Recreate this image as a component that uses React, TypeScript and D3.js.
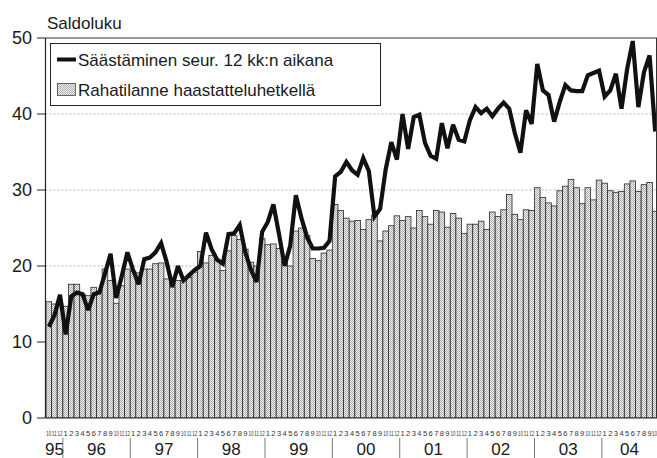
import React from 'react'
import * as d3 from 'd3'

// years on the x axis, months per year as printed under the bars
const years = ['95', '96', '97', '98', '99', '00', '01', '02', '03', '04']
const firstYearMonths = ['10', '11', '12']
const fullYearMonths = ['1', '2', '3', '4', '5', '6', '7', '8', '9', '10', '11', '12']
const lastYearMonths = ['1', '2', '3', '4', '5', '6', '7', '8', '9', '10']

// Säästäminen seur. 12 kk:n aikana (line)
const saving = [
  12.0, 13.5, 16.2,
  11.0, 16.0, 16.5, 16.3, 14.2, 16.3, 16.5, 19.0, 21.6, 15.8, 18.7, 21.8,
  19.5, 17.6, 20.9, 21.1, 21.8, 23.0, 20.5, 17.3, 20.0, 18.1, 18.8, 19.5,
  20.0, 24.4, 22.2, 20.8, 20.3, 24.2, 24.3, 25.4, 21.8, 19.5, 17.9, 24.5,
  25.8, 28.1, 24.2, 20.0, 22.7, 29.3, 26.3, 23.8, 22.3, 22.3, 22.4, 23.3,
  31.8, 32.4, 33.7, 32.6, 32.0, 34.2, 32.5, 26.5, 27.5, 32.7, 36.3, 34.0,
  40.0, 35.4, 39.6, 39.9, 36.2, 34.5, 34.1, 38.8, 35.5, 38.6, 36.6, 36.4,
  39.2, 40.9, 40.1, 40.7, 39.7, 40.7, 41.5, 40.7, 37.5, 34.9, 40.5, 38.7,
  46.6, 43.1, 42.5, 39.0, 41.6, 43.8, 43.1, 43.0, 43.0, 45.1, 45.4, 45.7,
  42.3, 43.1, 45.3, 40.7, 45.9, 49.6, 40.9, 45.5, 47.7, 37.7,
]

// Rahatilanne haastatteluhetkellä (bars)
const money = [
  15.3, 15.0, 15.0,
  14.7, 17.6, 17.6, 16.3, 16.1, 17.2, 16.7, 19.6, 18.1, 15.1, 17.4, 19.6,
  19.3, 19.1, 19.6, 19.6, 20.3, 20.4, 18.3, 17.2, 18.1, 18.1, 18.5, 19.2,
  21.9, 20.4, 21.4, 20.9, 19.4, 22.0, 24.0, 23.5, 22.2, 20.5, 20.0, 23.6,
  22.8, 22.9, 22.3, 20.5, 20.0, 24.6, 25.0, 24.0, 21.0, 20.7, 21.7, 22.1,
  28.1, 27.3, 26.3, 25.9, 26.0, 24.8, 26.1, 26.7, 23.3, 24.6, 25.3, 26.6,
  26.0, 26.5, 25.0, 27.3, 26.5, 25.5, 27.3, 27.1, 25.1, 26.9, 26.3, 24.3,
  25.5, 25.5, 25.9, 24.8, 27.1, 26.5, 27.4, 29.4, 26.8, 26.1, 27.4, 27.3,
  30.3, 29.0, 28.3, 27.9, 29.9, 30.5, 31.4, 30.3, 28.2, 30.3, 28.7, 31.3,
  30.9, 29.9, 29.7, 29.8, 30.8, 31.2, 29.8, 30.7, 31.0, 27.2,
]

const yTicks = [0, 10, 20, 30, 40, 50]
const gridTicks = [10, 20, 30, 40]

const W = 657
const H = 458
const font = '"Liberation Sans", Arial, sans-serif'

export default function App() {
  // build month categories
  const cats: { key: string; month: string; year: string }[] = []
  years.forEach((y, yi) => {
    const ms = yi === 0 ? firstYearMonths : yi === years.length - 1 ? lastYearMonths : fullYearMonths
    ms.forEach(m => cats.push({ key: y + '-' + m, month: m, year: y }))
  })

  const left = 45.5
  const right = 657
  const top = 38
  const bottom = 418

  const x = d3.scaleBand<string>().domain(cats.map(c => c.key)).range([46, 658]).padding(0)
  const y = d3.scaleLinear().domain([0, 50]).range([bottom, top])
  const bw = x.bandwidth()

  const line = d3.line<number>()
    .x((d, i) => (x(cats[i].key) as number) + bw / 2)
    .y(d => y(d))

  // year spans
  const yearSpans = years.map(yr => {
    const ks = cats.filter(c => c.year === yr)
    const x0 = x(ks[0].key) as number
    const x1 = Math.min((x(ks[ks.length - 1].key) as number) + bw, right)
    return { yr, x0, x1 }
  })

  return (
    <svg width={W} height={H} style={{ position: 'absolute', left: 0, top: 0, background: '#fff' }}>
      <defs>
        <pattern id="dots" width="2" height="2" patternUnits="userSpaceOnUse">
          <rect width="2" height="2" fill="#f2f2f2" />
          <rect x="0" y="0" width="1" height="1" fill="#ababab" />
          <rect x="1" y="1" width="1" height="1" fill="#ababab" />
        </pattern>
        <clipPath id="plot">
          <rect x={left} y={top - 5} width={right - left} height={bottom - top + 5} />
        </clipPath>
      </defs>

      <text x={47} y={29} fontFamily={font} fontSize={17} fill="#1a1a1a">Saldoluku</text>

      {/* grid */}
      {gridTicks.map(t => (
        <line key={t} x1={left} x2={right} y1={y(t)} y2={y(t)} stroke="#9a9a9a" strokeWidth={0.8} strokeDasharray="2 2" />
      ))}

      {/* bars */}
      <g clipPath="url(#plot)">
        {money.map((v, i) => (
          <rect key={i} x={x(cats[i].key)} y={y(v)} width={bw} height={bottom - y(v)}
            fill="url(#dots)" stroke="#2a2a2a" strokeWidth={0.8} />
        ))}
        <path d={line(saving) || ''} fill="none" stroke="#111" strokeWidth={4.2} strokeLinejoin="miter" strokeMiterlimit={3} />
      </g>

      {/* frame */}
      <line x1={left} x2={left} y1={top} y2={bottom} stroke="#222" strokeWidth={1.2} />
      <line x1={left} x2={right} y1={bottom} y2={bottom} stroke="#222" strokeWidth={1.2} />
      <line x1={left} x2={right} y1={top} y2={top} stroke="#333" strokeWidth={1} />
      <line x1={656.5} x2={656.5} y1={top} y2={bottom} stroke="#333" strokeWidth={1} />

      {/* y axis */}
      {yTicks.map(t => (
        <g key={t}>
          <line x1={37} x2={left} y1={y(t)} y2={y(t)} stroke="#222" strokeWidth={1} />
          <text x={32} y={y(t)} dy="0.36em" textAnchor="end" fontFamily={font} fontSize={18} fill="#1a1a1a">{t}</text>
        </g>
      ))}

      {/* month labels: two-digit months squeezed into one bar width */}
      {cats.map(c => {
        const cx = Math.min((x(c.key) as number) + bw / 2, right - 2.6)
        const sx = c.month.length > 1 ? 0.6 : 1
        return (
          <text key={c.key} transform={`translate(${cx},436) scale(${sx},1)`} textAnchor="middle"
            fontFamily={font} fontSize={7.5} fill="#333">{c.month}</text>
        )
      })}

      {/* year labels and separators */}
      {yearSpans.map((s, i) => (
        <g key={s.yr}>
          {i > 0 && <line x1={s.x0} x2={s.x0} y1={438} y2={458} stroke="#555" strokeWidth={0.8} />}
          <text x={(s.x0 + s.x1) / 2} y={455} textAnchor="middle" fontFamily={font} fontSize={17} fill="#1a1a1a">{s.yr}</text>
        </g>
      ))}

      {/* legend */}
      <rect x={50.5} y={43.5} width={330} height={62} fill="#fff" stroke="#222" strokeWidth={1} />
      <line x1={57} x2={76} y1={59.5} y2={59.5} stroke="#111" strokeWidth={4} />
      <text x={78} y={66} fontFamily={font} fontSize={17} fill="#1a1a1a">Säästäminen seur. 12 kk:n aikana</text>
      <rect x={57.5} y={83.5} width={18} height={12} fill="url(#dots)" stroke="#444" strokeWidth={0.8} />
      <text x={78} y={96} fontFamily={font} fontSize={17} fill="#1a1a1a">Rahatilanne haastatteluhetkellä</text>
    </svg>
  )
}
